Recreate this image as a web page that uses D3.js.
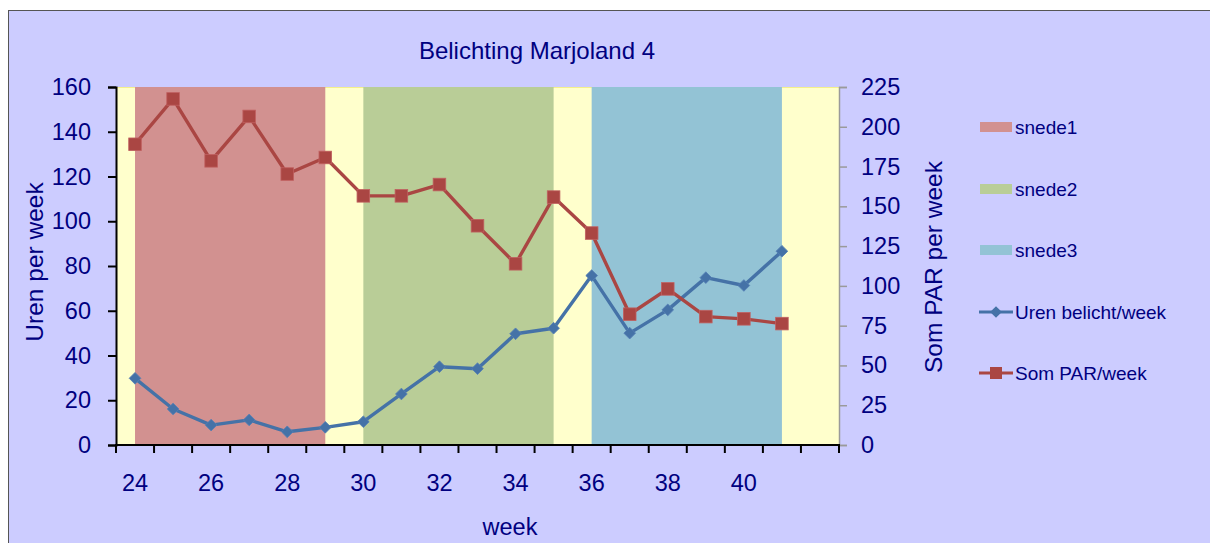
<!DOCTYPE html>
<html>
<head>
<meta charset="utf-8">
<script src="https://cdn.jsdelivr.net/npm/d3@7"></script>
<style>
  html, body { margin: 0; padding: 0; background: #ffffff; }
  svg { display: block; font-family: "Liberation Sans", Arial, sans-serif; }
</style>
</head>
<body>
<svg id="chart" width="1210" height="543"></svg>
<script>
// ---- data ----
const weeks = [24,25,26,27,28,29,30,31,32,33,34,35,36,37,38,39,40,41,42];
const xTickLabels = [24,26,28,30,32,34,36,38,40];
const urenWeeks = [24,25,26,27,28,29,30,31,32,33,34,35,36,37,38,39,40,41];
const urenBelicht = [29.8,16.1,8.9,11.2,5.9,7.9,10.4,22.8,35,34.1,49.7,52.2,75.7,50,60.4,74.8,71.3,86.6];
const somPAR = [189,217.5,178.6,206.5,170.3,180.7,156.6,156.6,163.7,137.8,113.9,155.8,133.2,82.2,98.1,80.7,79.3,76.3];
const snedeNames = ["snede1","snede2","snede3"];
const snedeStart = [24,30,36];
const snedeEnd = [29,35,41];
const snedeValue = [160,160,160];
const leftTicks = [0,20,40,60,80,100,120,140,160];
const rightTicks = [0,25,50,75,100,125,150,175,200,225];
const title = "Belichting Marjoland 4";

// ---- styles ----
const navy = "#000080";
const snedeColors = ["#D29190","#B9CD97","#93C3D5"];
const blue = "#4572A7", red = "#AA4643";
const fs = 23.5;

const svg = d3.select("#chart");

// chart area frame
svg.append("rect").attr("x",8.5).attr("y",10.5).attr("width",1210).attr("height",540)
  .attr("fill","#CCCCFF").attr("stroke","#555").attr("stroke-width",1);

const L = 116, R = 839, T = 87, B = 445;
const x = d3.scaleBand().domain(weeks).range([L,R]).padding(0);
const cx = w => x(w) + x.bandwidth()/2;
const yL = d3.scaleLinear().domain([0,160]).range([B,T]);
const yR = d3.scaleLinear().domain([0,225]).range([B,T]);

// plot area
svg.append("rect").attr("x",L).attr("y",T).attr("width",R-L).attr("height",B-T)
  .attr("fill","#FFFFCC");
svg.append("line").attr("x1",L).attr("x2",R).attr("y1",T+0.5).attr("y2",T+0.5)
  .attr("stroke","#F4F08C").attr("stroke-width",1);

// snede bands
svg.append("g").selectAll("rect").data(snedeNames).join("rect")
  .attr("x",(d,i)=>cx(snedeStart[i]))
  .attr("width",(d,i)=>cx(snedeEnd[i])-cx(snedeStart[i]))
  .attr("y",(d,i)=>yL(snedeValue[i]))
  .attr("height",(d,i)=>B-yL(snedeValue[i]))
  .attr("fill",(d,i)=>snedeColors[i]);

// left axis
const gL = svg.append("g").attr("transform",`translate(${L},0)`)
  .call(d3.axisLeft(yL).tickValues(leftTicks).tickSize(8).tickPadding(17));
gL.select(".domain").attr("stroke","#000").attr("stroke-width",2);
gL.selectAll(".tick line").attr("stroke","#000").attr("stroke-width",2);
gL.selectAll("text").attr("fill",navy).attr("font-size",fs).attr("font-family","Liberation Sans, Arial");

// right axis
const gR = svg.append("g").attr("transform",`translate(${R},0)`)
  .call(d3.axisRight(yR).tickValues(rightTicks).tickSize(8).tickPadding(14));
gR.select(".domain").attr("stroke","#9a9a9a").attr("stroke-width",1.5);
gR.selectAll(".tick line").attr("stroke","#9a9a9a").attr("stroke-width",1.5);
gR.selectAll("text").attr("fill",navy).attr("font-size",fs).attr("font-family","Liberation Sans, Arial");

// bottom axis (category boundaries)
const boundaries = weeks.map(w => x(w)).concat([R]);
const gB = svg.append("g");
gB.append("line").attr("x1",L-1).attr("x2",R+1).attr("y1",B).attr("y2",B)
  .attr("stroke","#000").attr("stroke-width",2);
gB.selectAll("line.tk").data(boundaries).join("line").attr("class","tk")
  .attr("x1",d=>d).attr("x2",d=>d).attr("y1",B).attr("y2",B+8)
  .attr("stroke","#000").attr("stroke-width",2);
gB.selectAll("text").data(xTickLabels).join("text")
  .attr("x",d=>cx(d)).attr("y",491).attr("text-anchor","middle")
  .attr("fill",navy).attr("font-size",fs).text(d=>d);

// lines
const lineL = d3.line().x((d,i)=>cx(urenWeeks[i])).y(d=>yL(d));
const lineR = d3.line().x((d,i)=>cx(urenWeeks[i])).y(d=>yR(d));

svg.append("path").datum(urenBelicht).attr("d",lineL)
  .attr("fill","none").attr("stroke",blue).attr("stroke-width",3.4).attr("stroke-linejoin","round");
svg.append("g").selectAll("path").data(urenBelicht).join("path")
  .attr("d",d3.symbol(d3.symbolSquare,68)())
  .attr("transform",(d,i)=>`translate(${cx(urenWeeks[i])},${yL(d)}) rotate(45)`)
  .attr("fill",blue).attr("stroke","#5580B5").attr("stroke-width",0.8);

svg.append("path").datum(somPAR).attr("d",lineR)
  .attr("fill","none").attr("stroke",red).attr("stroke-width",3.4).attr("stroke-linejoin","round");
svg.append("g").selectAll("rect").data(somPAR).join("rect")
  .attr("x",(d,i)=>cx(urenWeeks[i])-6.3).attr("y",d=>yR(d)-6.3)
  .attr("width",12.6).attr("height",12.6)
  .attr("fill",red).attr("stroke","#C06060").attr("stroke-width",0.8);

// titles
svg.append("text").attr("x",537).attr("y",59).attr("text-anchor","middle")
  .attr("fill",navy).attr("font-size",24).text(title);
svg.append("text").attr("transform","translate(43,262) rotate(-90)").attr("text-anchor","middle")
  .attr("fill",navy).attr("font-size",24.5).text("Uren per week");
svg.append("text").attr("transform","translate(942,267) rotate(-90)").attr("text-anchor","middle")
  .attr("fill",navy).attr("font-size",24.5).text("Som PAR per week");
svg.append("text").attr("x",510).attr("y",535).attr("text-anchor","middle")
  .attr("fill",navy).attr("font-size",fs).text("week");

// legend
const legY = [127,189,250,312,373];
const lg = svg.append("g");
snedeNames.forEach((n,i)=>{
  lg.append("rect").attr("x",980).attr("y",legY[i]-5).attr("width",32).attr("height",10).attr("fill",snedeColors[i]);
  lg.append("text").attr("x",1015).attr("y",legY[i]+7).attr("fill",navy).attr("font-size",19).text(n);
});
lg.append("line").attr("x1",979).attr("x2",1013).attr("y1",legY[3]).attr("y2",legY[3]).attr("stroke",blue).attr("stroke-width",3);
lg.append("path").attr("d",d3.symbol(d3.symbolSquare,68)()).attr("transform",`translate(996,${legY[3]}) rotate(45)`).attr("fill",blue);
lg.append("text").attr("x",1015).attr("y",legY[3]+7).attr("fill",navy).attr("font-size",19).text("Uren belicht/week");
lg.append("line").attr("x1",979).attr("x2",1013).attr("y1",legY[4]).attr("y2",legY[4]).attr("stroke",red).attr("stroke-width",3);
lg.append("rect").attr("x",990).attr("y",legY[4]-6).attr("width",12).attr("height",12).attr("fill",red);
lg.append("text").attr("x",1015).attr("y",legY[4]+7).attr("fill",navy).attr("font-size",19).text("Som PAR/week");
</script>
</body>
</html>
